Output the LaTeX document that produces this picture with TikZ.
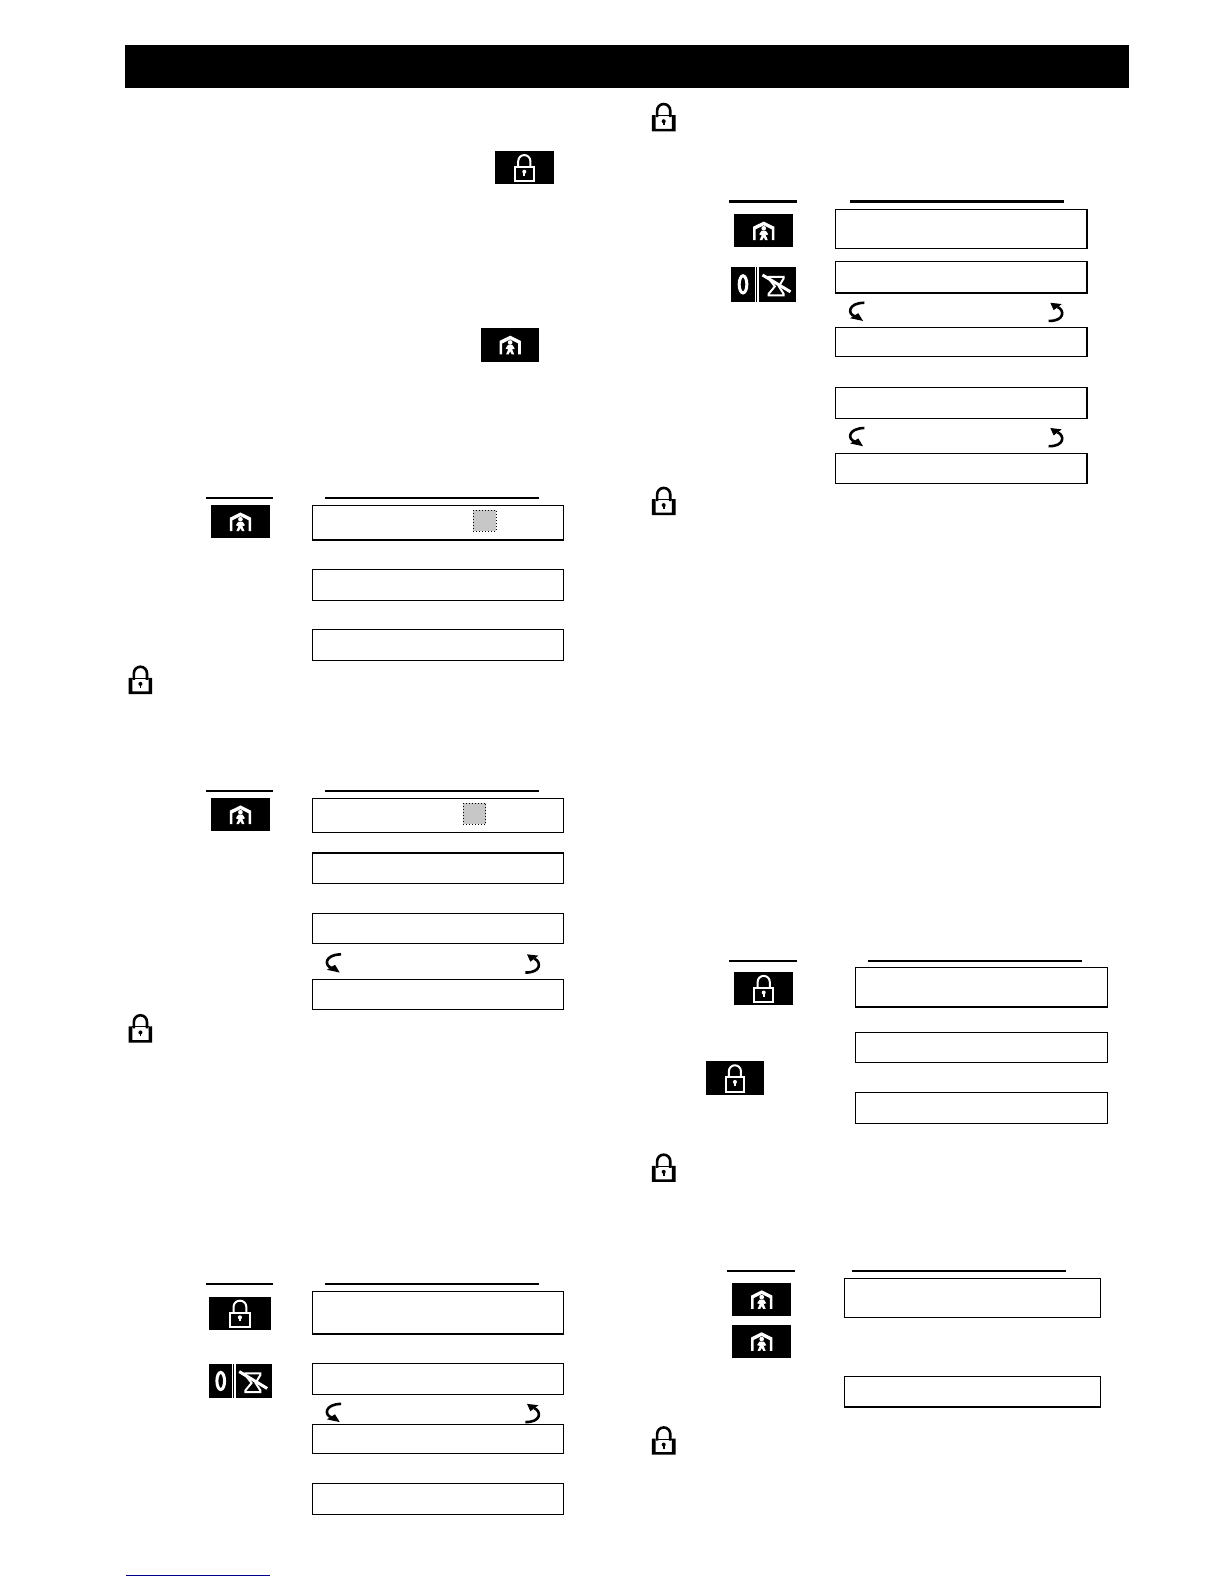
\documentclass[tikz,border=0pt]{standalone}
\tikzset{
  x=0.50495pt,y=-0.50495pt,
  rulebar/.style={line width=1.1pt,black},
  lcdbox/.style={draw=black,line width=0.55pt,fill=white},
  thickedge/.style={draw=black,line width=1pt},
  cursorcell/.style={fill=black!22,draw=black,line width=0.5pt,densely dotted},
  footrule/.style={draw=blue!55!black,line width=0.5pt},
  pics/houseicon/.style={code={
    \fill[black] (-29,-16.5) rectangle (29,16.5);
    \fill[white] (-10.5,-4) -- (0,-9.2) -- (10.5,-4) -- (10.5,9.2) -- (8,9.2) -- (8,-1.5) -- (0,-5.5) -- (-8,-1.5) -- (-8,9.2) -- (-10.5,9.2) -- cycle;
    \fill[white] (0,-2.5) circle (2.3);
    \fill[white] (-2.2,0) -- (2.2,0) -- (4.5,3.5) -- (2.5,4.3) -- (2,3) -- (2,4.5) -- (4,9.2) -- (1.5,9.2) -- (0,6.3) -- (-1.5,9.2) -- (-4,9.2) -- (-2,4.5) -- (-2,3) -- (-2.5,4.3) -- (-4.5,3.5) -- cycle;
  }},
  pics/lockkey/.style={code={
    \fill[black] (-29,-16.5) rectangle (29,16.5);
    \draw[white,line width=1pt] (-6,0) -- (-6,-6.5) arc[start angle=180,end angle=360,radius=6] -- (6,0);
    \draw[white,line width=1pt] (-9.3,-0.5) rectangle (9.3,13.5);
    \fill[white] (0,4) circle (2);
    \fill[white] (-0.8,4) rectangle (0.8,8);
  }},
  pics/padlock/.style={code={
    \draw[black,line width=1.3pt] (-6.5,-1) -- (-6.5,-7.5) arc[start angle=180,end angle=360,radius=6.5] -- (6.5,-1);
    \fill[black] (-11.7,-3) -- (-8,-3) -- (-8,10.5) -- (8,10.5) -- (8,-3) -- (11.7,-3) -- (11.7,13) -- (-11.7,13) -- cycle;
    \draw[black,line width=0.5pt] (-8,-2.5) -- (8,-2.5);
    \fill[black] (0,3) circle (2);
    \fill[black] (-0.8,3) rectangle (0.8,7);
  }},
  pics/zerokey/.style={code={
    \fill[black] (0,0) rectangle (23,34);
    \draw[white,line width=1.5pt] (11.5,17) ellipse (3.8 and 8.5);
  }},
  pics/hourglasskey/.style={code={
    \fill[black] (0,0) rectangle (36,34);
    \draw[black,line width=0.7pt] (-2.5,0) -- (-2.5,34);
    \draw[white,line width=1pt] (9.3,9.5) -- (24.3,9.5) -- (24.3,11) -- (19.5,19) -- (24.3,26.5) -- (24.3,28) -- (9.3,28) -- (9.3,26.5) -- (15.5,19) -- (9.3,11) -- cycle;
    \draw[white,line width=1.5pt] (3.3,7.7) -- (31,24.4);
  }},
  pics/arrowleft/.style={code={
    \draw[black,line width=1.3pt] (7.6,-9.3) .. controls (-9,-9) and (-9,2) .. (-2,4);
    \fill[black] (-6.4,6) -- (1.6,1) -- (6.3,8.7) -- cycle;
  }},
  pics/arrowright/.style={code={
    \draw[black,line width=1.3pt] (-7,8.7) .. controls (9,9) and (9,-2) .. (2,-5);
    \fill[black] (-5.3,-9.3) -- (6,-8) -- (-2,-2) -- cycle;
  }},
}
\begin{document}
\begin{tikzpicture}
\useasboundingbox (0,0) rectangle (1212,1568);
\fill[white] (0,0) rectangle (1212,1568);
% title band
\fill[black] (124,44.5) rectangle (1118,87);
% --- left column ---
\pic at (519,166) {lockkey};
\pic at (505,341.5) {houseicon};
% section 1
\draw[rulebar] (204,493) -- (270,493);
\draw[rulebar] (322,493) -- (534,493);
\pic at (238,516.5) {houseicon};
\path[lcdbox] (309,500.5) rectangle (558,535);
\draw[thickedge] (309,535) -- (558,535);
\path[cursorcell] (468.5,505) rectangle (491,526);
\path[lcdbox] (309,563.5) rectangle (558,594);
\path[lcdbox] (309,623.5) rectangle (558,654);
\pic at (139,674) {padlock};
% section 2
\draw[rulebar] (204,783) -- (270,783);
\draw[rulebar] (322,783) -- (534,783);
\pic at (238,806.5) {houseicon};
\path[lcdbox] (309,790) rectangle (558,824);
\path[cursorcell] (458.5,795) rectangle (481,816);
\path[lcdbox] (309,844) rectangle (558,875);
\draw[thickedge] (309,844) -- (558,844);
\path[lcdbox] (309,904) rectangle (558,934);
\pic at (330,954) {arrowleft};
\pic at (527,954) {arrowright};
\path[lcdbox] (309,969.5) rectangle (558,999);
\pic at (139,1019) {padlock};
% section 3
\draw[rulebar] (204,1271) -- (270,1271);
\draw[rulebar] (322,1271) -- (534,1271);
\pic[xscale=1.05] at (237.5,1300) {lockkey};
\pic at (207,1350) {zerokey};
\pic at (233.5,1350) {hourglasskey};
\path[lcdbox] (309,1278) rectangle (558,1321);
\draw[thickedge] (309,1321) -- (558,1321);
\path[lcdbox] (309,1349.5) rectangle (558,1380);
\pic at (330,1399) {arrowleft};
\pic at (527,1399) {arrowright};
\path[lcdbox] (309,1410) rectangle (558,1439);
\path[lcdbox] (309,1468.5) rectangle (558,1499);
\draw[black,line width=0.8pt] (309,1468.5) -- (558,1468.5);
% footnote rule
\path[footrule] (125,1559.5) -- (267,1559.5);
% --- right column ---
\pic at (657,117) {padlock};
\draw[rulebar] (722,199.5) -- (789,199.5);
\draw[rulebar] (841,199.5) -- (1053,199.5);
\pic at (756,228.5) {houseicon};
\pic at (724,264.5) {zerokey};
\pic at (751.5,264.5) {hourglasskey};
\path[lcdbox] (827,207.5) rectangle (1076,246);
\path[lcdbox] (827,258.5) rectangle (1076,290);
\pic at (848,309) {arrowleft};
\pic at (1045,309) {arrowright};
\path[lcdbox] (827,324.5) rectangle (1076,353);
\path[lcdbox] (827,383.5) rectangle (1076,414);
\pic at (848,433) {arrowleft};
\pic at (1045,433) {arrowright};
\path[lcdbox] (827,448.5) rectangle (1076,479);
\pic at (657,497) {padlock};
% section right 2
\draw[rulebar] (722,951) -- (789,951);
\draw[rulebar] (859,951) -- (1071,951);
\pic at (756,978.5) {lockkey};
\pic at (727.5,1067) {lockkey};
\path[lcdbox] (847,957.5) rectangle (1096,997);
\draw[thickedge] (847,997) -- (1096,997);
\path[lcdbox] (847,1022) rectangle (1096,1052);
\path[lcdbox] (847,1081.5) rectangle (1096,1112);
\pic at (657,1157) {padlock};
% section right 3
\draw[rulebar] (720,1258) -- (787,1258);
\draw[rulebar] (843,1258) -- (1055,1258);
\pic at (754,1286.5) {houseicon};
\pic at (754,1328) {houseicon};
\path[lcdbox] (836,1265.5) rectangle (1089,1304);
\path[lcdbox] (836,1362.5) rectangle (1089,1393);
\draw[thickedge] (836,1393) -- (1089,1393);
\pic at (657,1427) {padlock};
\end{tikzpicture}
\end{document}
